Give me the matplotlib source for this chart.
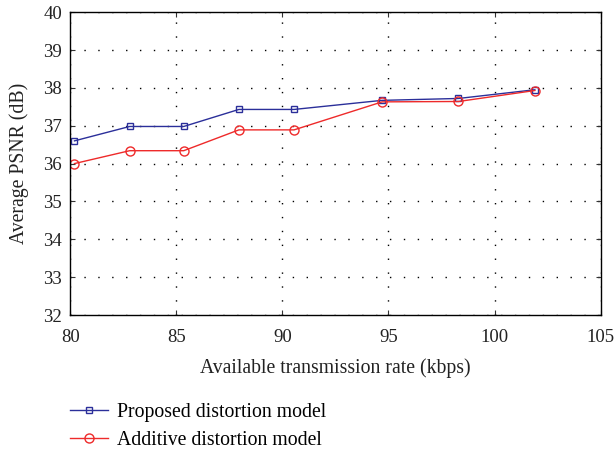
import matplotlib
matplotlib.use("Agg")
import matplotlib.pyplot as plt

# transmission rate (kbps) and average PSNR (dB)
rate = [80.2, 82.8, 85.35, 87.95, 90.55, 94.7, 98.3, 101.9]
psnr_proposed = [36.60, 36.98, 36.98, 37.43, 37.43, 37.67, 37.72, 37.95]
psnr_additive = [36.00, 36.34, 36.34, 36.89, 36.89, 37.63, 37.64, 37.93]

plt.rcParams["font.family"] = ["Liberation Serif", "DejaVu Serif"]

fig = plt.figure(figsize=(6.16, 4.5), dpi=100)
ax = fig.add_axes([0.114, 0.30, 0.861, 0.673])

ax.plot(rate, psnr_proposed, color="#2b2f9a", marker="s", markersize=5,
        markerfacecolor="none", linewidth=1.0, label="Proposed distortion model")
ax.plot(rate, psnr_additive, color="#ee2a2a", marker="o", markersize=6.5,
        markerfacecolor="none", linewidth=1.0, label="Additive distortion model")

ax.set_xlim(80, 105)
ax.set_ylim(32, 40)
ax.set_xticks(range(80, 106, 5))
ax.set_yticks(range(32, 41))
ax.grid(True, color="black", linestyle=(0, (1, 9)), linewidth=1.0)
ax.tick_params(direction="in", top=True, right=True, labelsize=13.5,
               color="#333333", labelcolor="#222222")
ax.tick_params(axis="x", pad=10)
ax.tick_params(axis="y", pad=6)
for s in ax.spines.values():
    s.set_linewidth(1.0)

ax.set_xlabel("Available transmission rate (kbps)", fontsize=14.2,
              color="#222222", labelpad=9)
ax.set_ylabel("Average PSNR (dB)", fontsize=14.2, color="#222222", labelpad=10)

fig.legend(loc="upper left", bbox_to_anchor=(0.085, 0.143), frameon=False,
           fontsize=14.2, handlelength=1.9, handletextpad=0.5, labelspacing=0.42)

fig.savefig("out.png", dpi=100)
